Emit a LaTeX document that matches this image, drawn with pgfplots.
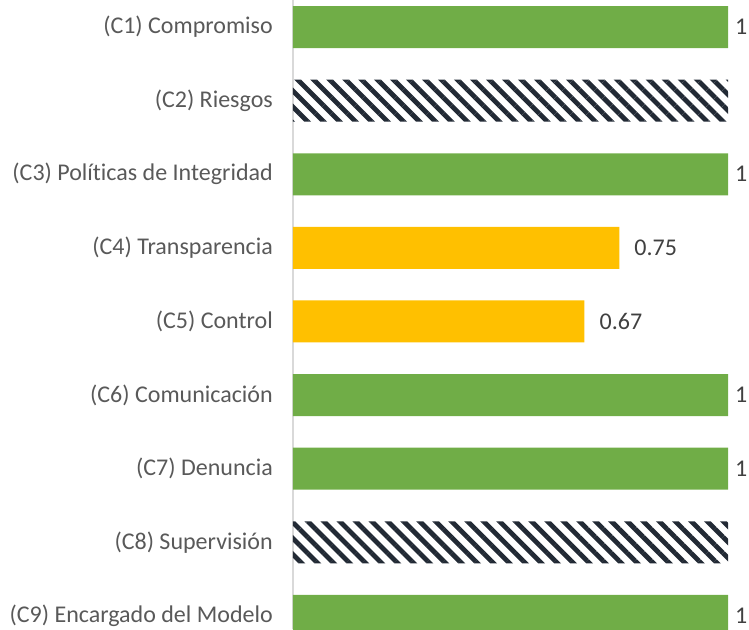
\documentclass[border=0pt]{standalone}
\usepackage{fontspec}
\setmainfont{Carlito}[Ligatures={NoCommon}]
\usepackage{pgfplots}
\pgfplotsset{compat=1.18}
\usetikzlibrary{patterns.meta}
\definecolor{cgreen}{HTML}{70AD47}
\definecolor{cyellow}{HTML}{FFC000}
\definecolor{chatch}{HTML}{222A35}
\definecolor{ctext}{HTML}{595959}
\definecolor{clabel}{HTML}{404040}
\definecolor{caxis}{HTML}{D9D9D9}
\begin{document}
\begin{tikzpicture}
\begin{axis}[
  at={(0,0)}, anchor=south west,
  scale only axis, width=435pt, height=629pt,
  xbar, bar width=42pt, bar shift=0pt,
  xmin=0, xmax=1, ymin=0.633, ymax=9.177, y dir=reverse,
  axis lines*=left,
  x axis line style={draw=none},
  y axis line style={draw=caxis, line width=2pt},
  xtick=\empty, ytick={1,...,9},
  yticklabels={(C1) Compromiso,(C2) Riesgos,(C3) Políticas de Integridad,(C4) Transparencia,(C5) Control,(C6) Comunicación,(C7) Denuncia,(C8) Supervisión,(C9) Encargado del Modelo},
  major tick length=0pt,
  yticklabel style={font=\fontsize{24}{28}\selectfont, text=ctext, inner sep=0pt, xshift=-20pt},
  clip=false,
  /pgf/number format/assume math mode=true,
]
\addplot[draw=none, fill=cgreen, nodes near coords,
  nodes near coords style={anchor=west, inner sep=0pt, xshift=7pt, font=\fontsize{24}{28}\selectfont, text=clabel}]
  coordinates {(1,1) (1,3) (1,6) (1,7) (1,9)};
\addplot[draw=none, fill=cyellow, nodes near coords,
  nodes near coords style={anchor=west, inner sep=0pt, xshift=15pt, font=\fontsize{24}{28}\selectfont, text=clabel}]
  coordinates {(0.75,4) (0.67,5)};
\addplot[draw=none, pattern={Lines[angle=-45, distance=11.3pt, line width=4.8pt]}, pattern color=chatch]
  coordinates {(1,2) (1,8)};
\end{axis}
\pgfresetboundingbox
\path[use as bounding box] (-293pt,0) rectangle (456pt,629pt);
\end{tikzpicture}
\end{document}
